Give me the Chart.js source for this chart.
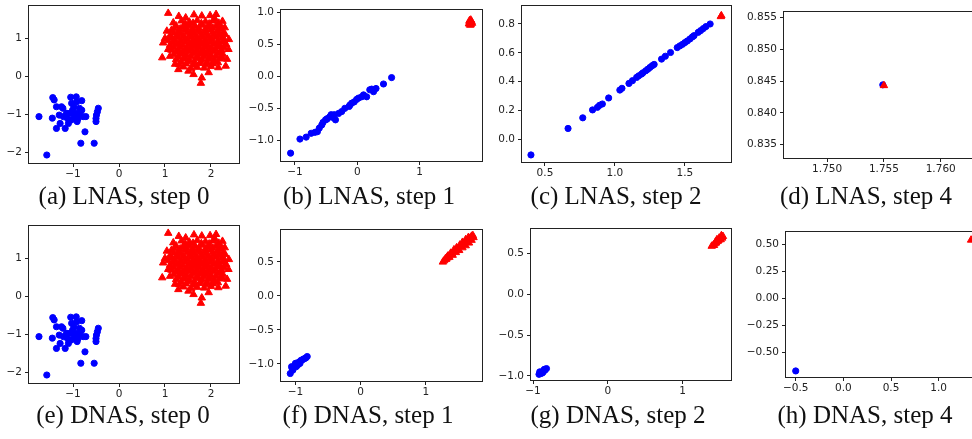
<!DOCTYPE html>
<html>
<head>
<meta charset="utf-8">
<script src="https://cdn.jsdelivr.net/npm/chart.js@4"></script>
<style>
  body { margin: 0; width: 972px; height: 439px; overflow: hidden; background: #fff; position: relative; }
  canvas { position: absolute; }
  .cap { position: absolute; font-family: "Liberation Serif", "Times New Roman", serif; font-size: 25px; line-height: 25px; color: #111; white-space: nowrap; transform: translateX(-50%); }
</style>
</head>
<body>
<script>
// step 0 (same for LNAS and DNAS)
const step0Blue = [[-1.74,-1.06],[-1.57,-2.07],[-1.44,-0.56],[-1.41,-0.62],[-1.45,-1.10],[-1.36,-1.37],[-1.36,-0.80],
  [-1.25,-0.80],[-1.28,-1.24],[-1.21,-1.06],[-1.17,-1.37],[-1.14,-0.97],[-1.10,-1.24],[-1.05,-0.55],[-1.03,-0.71],
  [-1.01,-0.89],[-0.99,-1.11],[-0.98,-0.80],[-0.93,-0.54],[-0.92,-0.67],[-0.92,-0.97],[-0.91,-1.19],[-0.86,-0.84],
  [-0.85,-1.02],[-0.83,-1.76],[-0.81,-0.64],[-0.81,-0.89],[-0.78,-1.06],[-0.74,-1.46],[-0.72,-1.06],[-0.54,-1.76],
  [-0.50,-1.19],[-0.49,-1.02],[-0.47,-0.93],[-0.45,-0.84],[-1.12,-1.11],[-1.22,-0.84],[-1.06,-0.97],[-0.96,-1.02],
  [-0.89,-1.11],[-1.30,-1.02],[-1.04,-1.15],[-0.50,-1.11]];
const step0Red = [
  [1.07,1.66],[1.80,1.59],[2.11,1.63],[1.45,1.54],[0.96,0.88],[0.94,0.49],[1.11,0.53],[1.80,-0.04],[1.78,-0.18],
  [2.32,0.27],[2.38,0.71],[2.39,0.97],[2.30,1.28],[2.09,1.50],[1.29,0.18],[1.51,0.14],[2.16,0.23],[1.18,1.41],
  [1.04,1.19],[1.07,0.71],[1.22,0.32],[1.62,0.05],[1.95,0.10],[2.25,1.45],[1.30,1.58],[1.63,1.62],[1.98,1.60],
  [2.35,0.45],[1.00,1.00],
  [1.36,1.46],[1.53,1.43],[1.70,1.47],[1.88,1.44],[2.04,1.46],[2.17,1.40],
  [1.44,1.38],[1.61,1.40],[1.79,1.39],[1.96,1.38],
  [1.24,1.33],[1.39,1.30],[1.52,1.34],[1.66,1.31],[1.80,1.35],[1.95,1.30],[2.11,1.33],[2.22,1.29],
  [1.20,1.26],[1.33,1.25],[1.47,1.27],[1.60,1.25],[1.74,1.27],[1.88,1.25],[2.04,1.27],[2.18,1.25],
  [1.14,1.21],[1.29,1.18],[1.44,1.22],[1.58,1.19],[1.72,1.21],[1.86,1.18],[2.00,1.22],[2.14,1.19],[2.26,1.16],
  [1.19,1.14],[1.34,1.13],[1.48,1.15],[1.62,1.13],[1.76,1.15],[1.90,1.13],[2.03,1.15],[2.17,1.13],
  [1.11,1.07],[1.26,1.09],[1.40,1.06],[1.54,1.10],[1.67,1.07],[1.80,1.09],[1.93,1.06],[2.06,1.10],[2.19,1.07],[2.31,1.10],
  [1.14,1.01],[1.28,1.02],[1.43,1.00],[1.56,1.03],[1.70,1.01],[1.83,1.02],[1.97,1.00],[2.10,1.03],[2.24,1.01],
  [1.07,0.94],[1.21,0.96],[1.35,0.93],[1.49,0.97],[1.62,0.94],[1.75,0.96],[1.89,0.93],[2.02,0.97],[2.16,0.94],[2.29,0.96],
  [1.17,0.89],[1.31,0.88],[1.45,0.90],[1.58,0.88],[1.72,0.90],[1.86,0.88],[1.99,0.90],[2.13,0.88],[2.26,0.90],
  [1.11,0.82],[1.25,0.84],[1.39,0.81],[1.53,0.85],[1.66,0.82],[1.79,0.84],[1.93,0.81],[2.06,0.85],[2.19,0.82],[2.33,0.84],
  [1.19,0.76],[1.33,0.77],[1.47,0.75],[1.61,0.78],[1.74,0.76],[1.88,0.77],[2.01,0.75],[2.15,0.77],[2.28,0.76],
  [1.14,0.69],[1.29,0.71],[1.43,0.68],[1.57,0.72],[1.70,0.69],[1.83,0.71],[1.96,0.68],[2.09,0.72],[2.23,0.69],
  [1.24,0.64],[1.38,0.63],[1.52,0.65],[1.65,0.63],[1.79,0.65],[1.92,0.63],[2.06,0.65],[2.20,0.63],
  [1.19,0.57],[1.33,0.59],[1.47,0.56],[1.60,0.60],[1.74,0.57],[1.87,0.59],[2.00,0.56],[2.14,0.60],[2.26,0.57],
  [1.29,0.51],[1.43,0.50],[1.57,0.52],[1.71,0.50],[1.85,0.52],[1.98,0.50],[2.11,0.52],[2.24,0.50],
  [1.24,0.44],[1.39,0.46],[1.53,0.43],[1.67,0.47],[1.81,0.44],[1.94,0.46],[2.07,0.43],[2.19,0.46],
  [1.35,0.38],[1.50,0.39],[1.64,0.37],[1.78,0.39],[1.92,0.37],[2.05,0.39],[2.15,0.36],
  [1.31,0.31],[1.46,0.33],[1.61,0.30],[1.75,0.34],[1.89,0.31],[2.04,0.33],
  [1.40,0.25],[1.70,0.24],[1.85,0.22],[2.00,0.26],[1.57,0.20],
  [1.60,0.88],[1.72,0.78],[1.85,0.90],[1.68,1.00],[1.78,0.62],[1.55,0.75]];

// LNAS
const lnas1Blue = [[-1.07,-1.20],[-0.92,-0.98],[-0.82,-0.95],[-0.74,-0.89],[-0.68,-0.875],[-0.64,-0.865],[-0.61,-0.81],
  [-0.57,-0.76],[-0.55,-0.72],[-0.51,-0.68],[-0.48,-0.66],[-0.44,-0.63],[-0.40,-0.64],[-0.37,-0.60],[-0.35,-0.68],
  [-0.30,-0.58],[-0.25,-0.55],[-0.20,-0.50],[-0.12,-0.45],[-0.09,-0.42],[-0.05,-0.40],[-0.01,-0.36],[0.02,-0.34],
  [0.07,-0.32],[0.10,-0.29],[0.15,-0.32],[0.20,-0.21],[0.23,-0.20],[0.26,-0.24],[0.30,-0.19],[0.42,-0.12],
  [0.55,-0.02],[-0.42,-0.60],[-0.49,-0.67],[-0.13,-0.47]];
const lnas1Red = [[1.79,0.82],[1.81,0.84],[1.83,0.86],[1.80,0.87],[1.82,0.81],[1.84,0.83],[1.80,0.85],[1.82,0.88],[1.81,0.80],[1.83,0.85]];
const lnas2Blue = [[0.40,-0.11],[0.665,0.074],[0.77,0.148],[0.84,0.203],[0.875,0.221],[0.89,0.235],[0.91,0.244],
  [0.955,0.286],[1.035,0.341],[1.05,0.353],[1.10,0.387],[1.125,0.406],[1.155,0.429],[1.17,0.44],[1.19,0.452],
  [1.20,0.461],[1.22,0.475],[1.235,0.486],[1.25,0.498],[1.266,0.51],[1.28,0.519],[1.333,0.556],[1.36,0.576],
  [1.397,0.602],[1.445,0.636],[1.464,0.648],[1.483,0.659],[1.50,0.671],[1.517,0.682],[1.536,0.696],[1.553,0.71],
  [1.565,0.719],[1.595,0.742],[1.612,0.754],[1.631,0.768],[1.65,0.782],[1.68,0.80]];
const lnas2Red = [[1.757,0.852],[1.760,0.858]];
const lnas4Blue = [[1.7549,0.8444]];
const lnas4Red = [[1.7550,0.8443]];

// DNAS
const dnas1Blue = [[-1.08,-1.14],[-1.05,-1.07],[-1.03,-1.05],[-1.06,-1.04],[-1.01,-1.02],[-0.99,-1.04],[-0.98,-1.00],
  [-0.96,-0.98],[-0.97,-1.02],[-0.94,-0.97],[-0.92,-0.95],[-0.93,-0.99],[-0.90,-0.94],[-0.88,-0.93],[-0.86,-0.92],
  [-0.84,-0.91],[-0.82,-0.89],[-1.00,-0.99],[-0.95,-1.00],[-1.04,-1.09]];
const dnas1Red = [[1.26,0.50],[1.28,0.52],[1.31,0.54],[1.30,0.55],[1.33,0.56],[1.33,0.58],[1.35,0.58],[1.36,0.57],
  [1.34,0.59],[1.40,0.62],[1.41,0.60],[1.38,0.63],[1.44,0.66],[1.46,0.64],[1.43,0.68],[1.49,0.69],[1.51,0.67],
  [1.47,0.71],[1.54,0.73],[1.56,0.71],[1.52,0.75],[1.58,0.77],[1.61,0.74],[1.56,0.79],[1.63,0.81],[1.66,0.78],
  [1.61,0.83],[1.67,0.85],[1.70,0.82],[1.65,0.86],[1.72,0.89],[1.73,0.86],[1.70,0.88]];
const dnas2Blue = [[-0.92,-0.98],[-0.90,-0.96],[-0.89,-0.97],[-0.88,-0.95],[-0.86,-0.94],[-0.85,-0.92],[-0.84,-0.93],
  [-0.82,-0.91],[-0.87,-0.96],[-0.91,-0.95]];
const dnas2Red = [[1.39,0.59],[1.41,0.60],[1.43,0.62],[1.42,0.60],[1.45,0.63],[1.44,0.64],[1.47,0.65],[1.48,0.66],
  [1.46,0.67],[1.50,0.68],[1.51,0.67],[1.49,0.69],[1.52,0.70],[1.53,0.69],[1.54,0.71],[1.52,0.72]];
const dnas4Blue = [[-0.50,-0.67]];
const dnas4Red = [[1.34,0.54]];

// tick values
const ticksStep0X = [-1, 0, 1, 2];
const ticksStep0Y = [-2, -1, 0, 1];
const ticksL1X = [-1, 0, 1];
const ticksL1Y = [-1.0, -0.5, 0.0, 0.5, 1.0];
const ticksL2X = [0.5, 1.0, 1.5];
const ticksL2Y = [0.0, 0.2, 0.4, 0.6, 0.8];
const ticksL4X = [1.750, 1.755, 1.760];
const ticksL4Y = [0.835, 0.840, 0.845, 0.850, 0.855];
const ticksD1X = [-1, 0, 1];
const ticksD1Y = [-1.0, -0.5, 0.0, 0.5];
const ticksD2X = [-1, 0, 1];
const ticksD2Y = [-1.0, -0.5, 0.0, 0.5];
const ticksD4X = [-0.5, 0.0, 0.5, 1.0];
const ticksD4Y = [-0.50, -0.25, 0.00, 0.25, 0.50];

const captions = ['(a) LNAS, step 0', '(b) LNAS, step 1', '(c) LNAS, step 2', '(d) LNAS, step 4',
  '(e) DNAS, step 0', '(f) DNAS, step 1', '(g) DNAS, step 2', '(h) DNAS, step 4'];

// layout: plot rect [left, top, right, bottom], axis ranges, caption centre
const panels = [
  { rect: [29, 6, 239, 163], x: [-1.957, 2.609], y: [-2.28, 1.85], xt: ticksStep0X, yt: ticksStep0Y, xd: 0, yd: 0, blue: step0Blue, red: step0Red, cap: [124, 183] },
  { rect: [281, 10, 482, 161], x: [-1.224, 2.0], y: [-1.323, 1.036], xt: ticksL1X, yt: ticksL1Y, xd: 0, yd: 1, blue: lnas1Blue, red: lnas1Red, cap: [369, 183] },
  { rect: [522, 6, 731, 162], x: [0.336, 1.829], y: [-0.159, 0.925], xt: ticksL2X, yt: ticksL2Y, xd: 1, yd: 1, blue: lnas2Blue, red: lnas2Red, cap: [616, 183] },
  { rect: [784, 12, 985, 158], x: [1.7462, 1.7639], y: [0.83292, 0.85583], xt: ticksL4X, yt: ticksL4Y, xd: 3, yd: 3, blue: lnas4Blue, red: lnas4Red, cap: [866, 183] },
  { rect: [29, 226, 239, 383], x: [-1.957, 2.609], y: [-2.28, 1.85], xt: ticksStep0X, yt: ticksStep0Y, xd: 0, yd: 0, blue: step0Blue, red: step0Red, cap: [123, 402] },
  { rect: [281, 230, 482, 381], x: [-1.222, 1.86], y: [-1.25, 0.97], xt: ticksD1X, yt: ticksD1Y, xd: 0, yd: 1, blue: dnas1Blue, red: dnas1Red, cap: [368, 402] },
  { rect: [531, 229, 731, 380], x: [-1.027, 1.648], y: [-1.05, 0.80], xt: ticksD2X, yt: ticksD2Y, xd: 0, yd: 1, blue: dnas2Blue, red: dnas2Red, cap: [618, 402] },
  { rect: [786, 232, 985, 377], x: [-0.602, 1.486], y: [-0.726, 0.614], xt: ticksD4X, yt: ticksD4Y, xd: 1, yd: 2, blue: dnas4Blue, red: dnas4Red, cap: [865, 402] }
];

const ML = 40, MT = 10, MR = 25, MB = 30;

const framePlugin = {
  id: 'frame',
  afterDraw(chart) {
    const a = chart.chartArea, ctx = chart.ctx;
    ctx.save();
    ctx.strokeStyle = '#222';
    ctx.lineWidth = 1;
    ctx.strokeRect(a.left - 0.5, a.top - 0.5, a.right - a.left + 1, a.bottom - a.top + 1);
    ctx.restore();
  }
};

function fmt(d) {
  return v => v.toFixed(d).replace('-', '\u2212');
}

function axis(range, ticks, dec, isX) {
  return {
    type: 'linear',
    position: isX ? 'bottom' : 'left',
    min: range[0],
    max: range[1],
    afterBuildTicks: s => { s.ticks = ticks.map(v => ({ value: v })); },
    afterFit: s => {
      if (isX) { s.height = MB; s.paddingLeft = 0; s.paddingRight = 0; }
      else { s.width = ML; s.paddingTop = 0; s.paddingBottom = 0; }
    },
    grid: { drawOnChartArea: false, drawTicks: true, tickLength: 4, color: '#222' },
    border: { display: false },
    ticks: {
      autoSkip: false, maxRotation: 0, minRotation: 0,
      padding: isX ? 1 : 3,
      color: '#222',
      font: { family: 'DejaVu Sans', size: 10.5 },
      callback: fmt(dec)
    }
  };
}

panels.forEach((p, i) => {
  const [l, t, r, b] = p.rect;
  const w = (r - l) + ML + MR, h = (b - t) + MT + MB;
  const wrap = document.createElement('div');
  wrap.style.cssText = `position:absolute;left:${l - ML}px;top:${t - MT}px;width:${w}px;height:${h}px;`;
  document.body.appendChild(wrap);
  const cv = document.createElement('canvas');
  cv.width = w; cv.height = h;
  cv.style.cssText = `left:0;top:0;width:${w}px;height:${h}px;`;
  wrap.appendChild(cv);

  new Chart(cv, {
    type: 'scatter',
    data: {
      datasets: [
        {
          data: p.red.map(q => ({ x: q[0], y: q[1] })),
          pointStyle: 'triangle', pointRadius: 4.3, borderWidth: 1,
          backgroundColor: '#ff0000', borderColor: '#ff0000'
        },
        {
          data: p.blue.map(q => ({ x: q[0], y: q[1] })),
          pointStyle: 'circle', pointRadius: 3.1, borderWidth: 1,
          backgroundColor: '#0000ff', borderColor: '#0000ff'
        }
      ]
    },
    options: {
      responsive: false,
      animation: false,
      events: [],
      layout: { padding: { left: 0, top: MT, right: MR, bottom: 0 } },
      plugins: { legend: { display: false }, tooltip: { enabled: false } },
      scales: { x: axis(p.x, p.xt, p.xd, true), y: axis(p.y, p.yt, p.yd, false) }
    },
    plugins: [framePlugin]
  });

  const c = document.createElement('div');
  c.className = 'cap';
  c.textContent = captions[i];
  c.style.left = p.cap[0] + 'px';
  c.style.top = p.cap[1] + 'px';
  document.body.appendChild(c);
});
</script>
</body>
</html>
